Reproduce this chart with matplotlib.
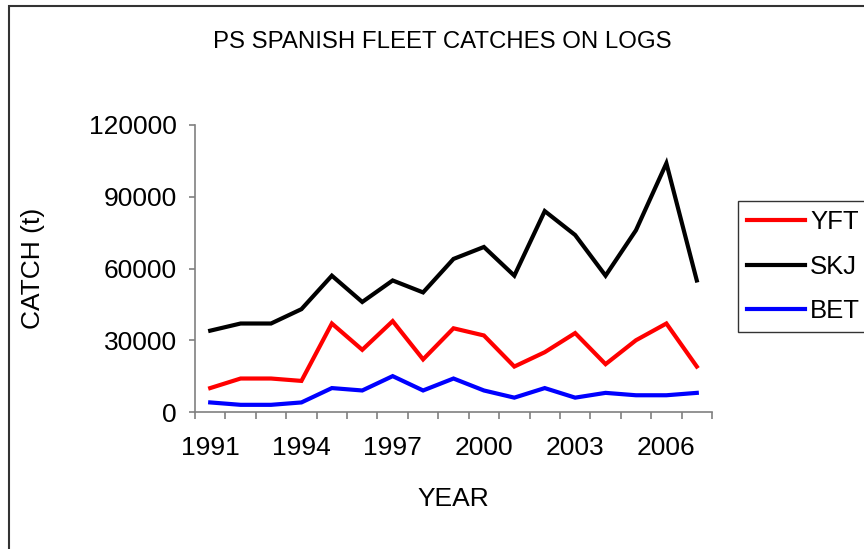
import numpy as np
import matplotlib
matplotlib.use('Agg')
import matplotlib.pyplot as plt
from matplotlib.patches import Rectangle
from matplotlib.ticker import FixedLocator

plt.rcParams['font.family'] = ['Liberation Sans', 'DejaVu Sans']

years = list(range(1991, 2008))
yft = [10000, 14000, 14000, 13000, 37000, 26000, 38000, 22000, 35000,
       32000, 19000, 25000, 33000, 20000, 30000, 37000, 19000]
skj = [34000, 37000, 37000, 43000, 57000, 46000, 55000, 50000, 64000,
       69000, 57000, 84000, 74000, 57000, 76000, 104000, 55000]
bet = [4000, 3000, 3000, 4000, 10000, 9000, 15000, 9000, 14000,
       9000, 6000, 10000, 6000, 8000, 7000, 7000, 8000]
yticks = [0, 30000, 60000, 90000, 120000]

W, H = 864, 549
FS = 19
fig = plt.figure(figsize=(W / 100, H / 100), dpi=100)
ax = fig.add_axes([195 / W, 1 - 412 / H, (712 - 195) / W, (412 - 125) / H])

x = np.arange(len(years))
ax.plot(x, yft, color='#FF0000', lw=3, label='YFT', solid_joinstyle='miter')
ax.plot(x, skj, color='black', lw=3, label='SKJ', solid_joinstyle='miter')
ax.plot(x, bet, color='#0000FF', lw=3, label='BET', solid_joinstyle='miter')

ax.set_xlim(-0.5, len(years) - 0.5)
ax.set_ylim(0, 120000)
ax.set_yticks(yticks)
ax.set_yticklabels([str(v) for v in yticks])

# category labels every 3 years, tick marks between categories
ax.set_xticks(x[::3])
ax.set_xticklabels([str(y) for y in years[::3]])
ax.xaxis.set_minor_locator(FixedLocator(np.arange(-0.5, len(years), 1.0)))
ax.tick_params(axis='x', which='major', length=0, pad=17, labelsize=FS)
ax.tick_params(axis='x', which='minor', length=5, width=1.2, color='#808080', direction='out')
ax.tick_params(axis='y', length=4, width=1.2, color='#808080', pad=9, labelsize=FS)

for s in ['top', 'right']:
    ax.spines[s].set_visible(False)
for s in ['left', 'bottom']:
    ax.spines[s].set_color('#808080')
    ax.spines[s].set_linewidth(1.2)

ax.set_xlabel('YEAR', fontsize=FS, labelpad=20)
fig.text(33 / W, 1 - 268 / H, 'CATCH (t)', rotation=90, fontsize=FS,
         ha='center', va='center')
fig.text(442 / W, 1 - 42 / H, 'PS SPANISH FLEET CATCHES ON LOGS', fontsize=17.3,
         ha='center', va='center')

leg = ax.legend(loc='upper left', bbox_to_anchor=(738 / W, 1 - 201 / H),
                bbox_transform=fig.transFigure, fontsize=18.5, frameon=True,
                fancybox=False, edgecolor='black', borderaxespad=0,
                handlelength=2.25, handletextpad=0.2, labelspacing=0.8,
                borderpad=0.35)
leg.get_frame().set_linewidth(1.0)

# outer chart frame
fig.patches.append(Rectangle((8.5 / W, -0.1), 1.2, 1 - 6.5 / H + 0.1,
                             transform=fig.transFigure, fill=False,
                             edgecolor='#333333', lw=1.5))

fig.savefig('out.png', dpi=100)
